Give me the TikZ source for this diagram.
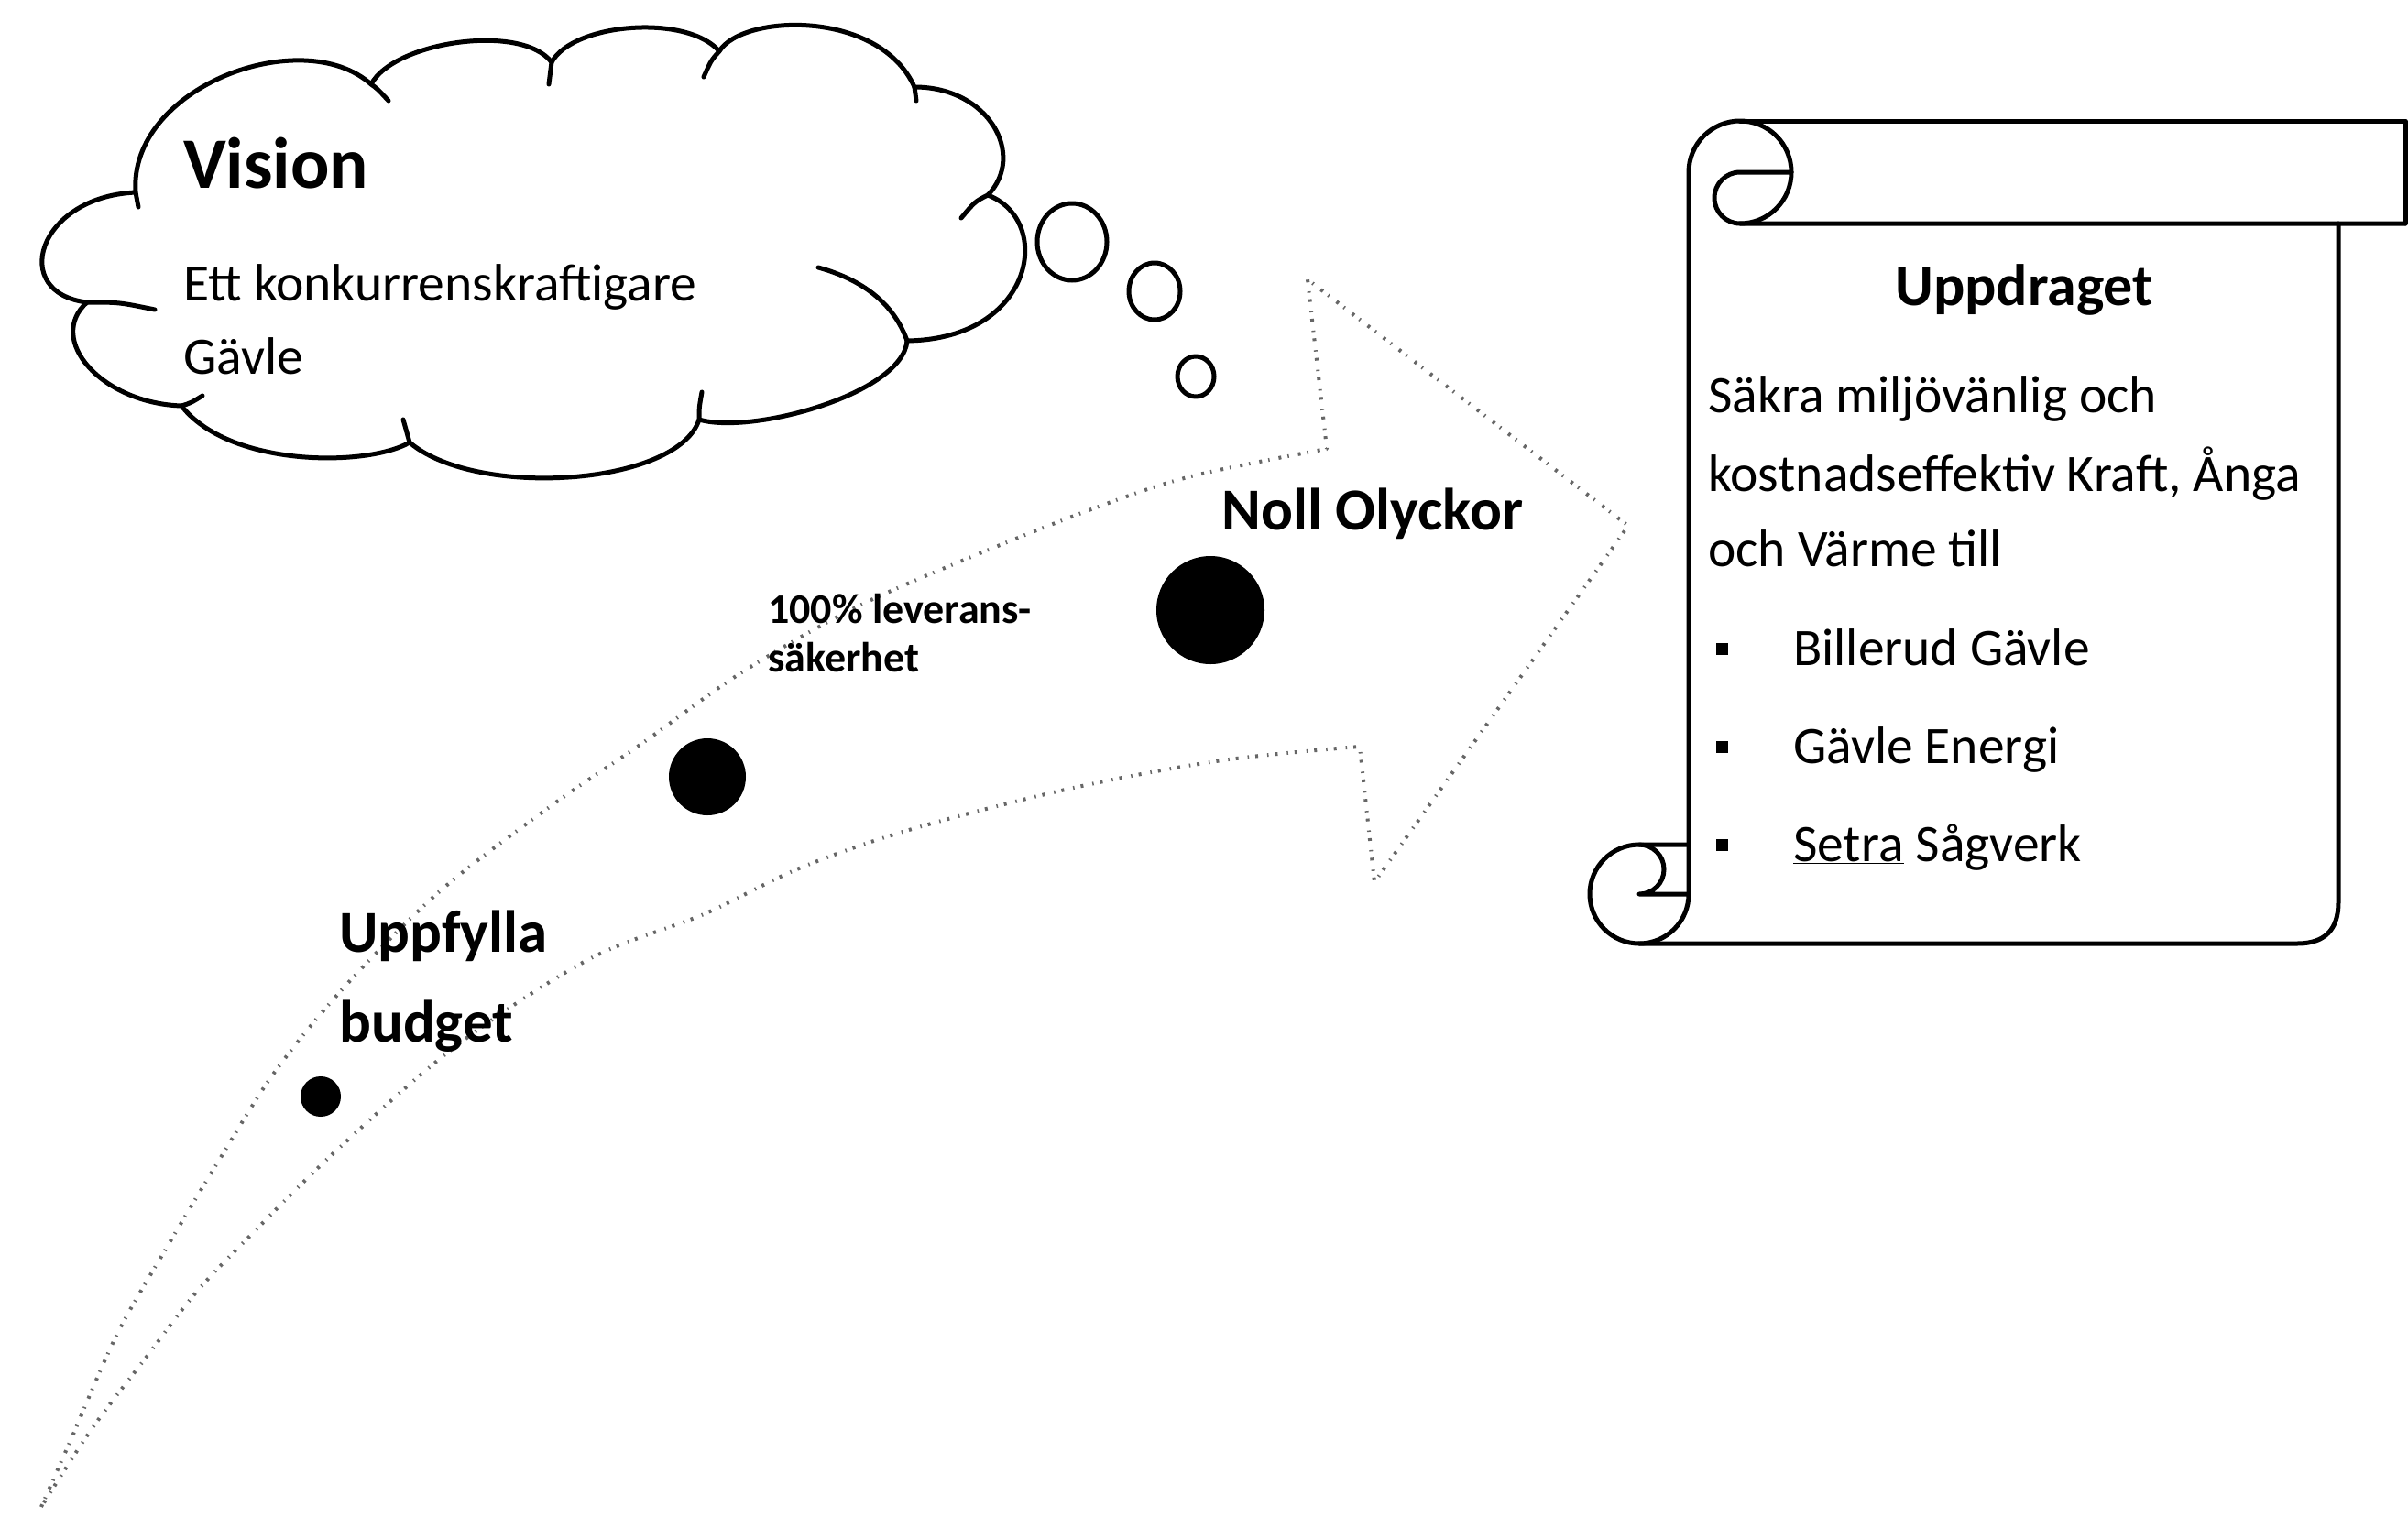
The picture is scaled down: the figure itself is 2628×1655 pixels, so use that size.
\documentclass[tikz,border=0pt]{standalone}
\usepackage{fontspec}
\setmainfont{Carlito}
\begin{document}
\begin{tikzpicture}[x=1pt,y=1pt,
  outl/.style={line width=5pt,line join=round,line cap=round},
  tailline/.style={line width=5pt,line cap=round},
  arrowline/.style={line width=4pt,black!60,line join=round,dash pattern=on 3pt off 7pt on 1.5pt off 10pt},
  dotnode/.style={circle,fill=black,inner sep=0pt},
  txt/.style={inner sep=0pt,anchor=base west,font=\fontsize{57.5}{69}\selectfont},
  btxt/.style={inner sep=0pt,anchor=base west,font=\fontsize{65}{78}\selectfont\bfseries},
  stxt/.style={inner sep=0pt,anchor=base west,font=\fontsize{46}{55}\selectfont\bfseries},
  bulletbox/.style={fill=black,inner sep=0pt,minimum size=13pt}
]
\fill[white] (0,0) rectangle (2628,-1655);
\useasboundingbox (0,0) rectangle (2628,-1655);

% ---------- curved arrow (faint outline) ----------
\draw[arrowline] plot[smooth,tension=0.55] coordinates {(45,-1645) (78,-1570) (127,-1458) (180,-1365) (240,-1265) (300,-1170) (378,-1075) (481,-972) (601,-880) (700,-812) (808,-735) (930,-665) (1055,-610) (1191,-556) (1300,-520) (1448,-490)}
  -- (1427,-305) -- (1777,-574) -- (1500,-963) -- (1484,-815)
  -- plot[smooth,tension=0.55] coordinates {(1484,-815) (1334,-830) (1167,-861) (992,-906) (872,-948) (768,-998) (643,-1047) (500,-1140) (367,-1256) (267,-1355) (213,-1412) (160,-1481) (100,-1560) (45,-1645)};

% ---------- milestone dots ----------
\node[dotnode,minimum size=118pt] (d3) at (1321,-666) {};
\node[dotnode,minimum size=84pt] (d2) at (772,-848) {};
\node[dotnode,minimum size=44pt] (d1) at (350,-1197) {};

% ---------- arrow labels ----------
\node[btxt] (noll) at (1333,-578) {Noll Olyckor};
\node[stxt] (lev1) at (838,-680) {100\% leverans-};
\node[stxt] (lev2) at (838,-733) {säkerhet};
\node[btxt] (upp1) at (370,-1039) {Uppfylla};
\node[btxt] (upp2) at (370,-1137) {budget};

% ---------- cloud ----------
\draw[outl] (148,-210) .. controls (140,-95) and (330,-25) .. (405,-92)
  .. controls (430,-45) and (570,-25) .. (602,-68)
  .. controls (625,-25) and (750,-15) .. (785,-56)
  .. controls (810,-15) and (960,-10) .. (998,-95)
  .. controls (1080,-95) and (1120,-170) .. (1078,-213)
  .. controls (1150,-240) and (1130,-370) .. (990,-372)
  .. controls (985,-430) and (820,-475) .. (763,-458)
  .. controls (740,-530) and (520,-545) .. (447,-483)
  .. controls (400,-510) and (250,-510) .. (198,-443)
  .. controls (110,-440) and (50,-370) .. (95,-330)
  .. controls (10,-320) and (40,-215) .. (148,-210) -- cycle;
% inner tails of the cloud
\draw[tailline] (148,-210) -- (151,-226);
\draw[tailline] (405,-92) .. controls (412,-97) .. (424,-110);
\draw[tailline] (602,-68) -- (599,-92);
\draw[tailline] (785,-56) .. controls (776,-66) .. (768,-84);
\draw[tailline] (998,-95) -- (1000,-110);
\draw[tailline] (1078,-213) .. controls (1064,-220) .. (1049,-238);
\draw[tailline] (990,-372) .. controls (975,-330) and (940,-305) .. (893,-292);
\draw[tailline] (763,-458) .. controls (763,-445) .. (766,-428);
\draw[tailline] (447,-483) .. controls (444,-472) .. (440,-458);
\draw[tailline] (198,-443) .. controls (208,-440) .. (221,-432);
\draw[tailline] (95,-330) .. controls (130,-330) .. (169,-338);

% thought bubbles
\draw[outl] (1170,-264) ellipse [x radius=38, y radius=42];
\draw[outl] (1260,-318) ellipse [x radius=28, y radius=31];
\draw[outl] (1305,-411) ellipse [x radius=20, y radius=22];

% cloud text
\node[inner sep=0pt,anchor=base west,font=\fontsize{79}{95}\selectfont\bfseries] (vision) at (200,-205) {Vision};
\node[txt] (vis1) at (200,-328) {Ett konkurrenskraftigare};
\node[txt] (vis2) at (200,-408) {Gävle};

% ---------- scroll ----------
% left edge and top roll
\draw[outl] (1843,-976) -- (1843,-188) arc[start angle=180,end angle=-90,radius=56];
% top band
\draw[outl] (1899,-132) -- (2625,-132) -- (2625,-244);
\draw[outl] (1955,-188) -- (1899,-188) arc[start angle=90,end angle=270,radius=28] -- (2625,-244);
% right edge and bottom
\draw[outl] (2552,-244) -- (2552,-985) .. controls (2552,-1015) and (2537,-1030) .. (2507,-1030) -- (1789,-1030);
% bottom-left roll
\draw[outl] (1843,-922) -- (1789,-922) arc[start angle=90,end angle=270,radius=54] arc[start angle=270,end angle=360,radius=54];
\draw[outl] (1843,-976) -- (1789,-976) arc[start angle=-90,end angle=90,radius=27];

% scroll text
\node[inner sep=0pt,anchor=base,font=\fontsize{64}{77}\selectfont\bfseries] (uppdr) at (2209,-333) {Uppdraget};
\node[txt] (s1) at (1864,-450) {Säkra miljövänlig och};
\node[txt] (s2) at (1864,-536) {kostnadseffektiv Kraft, Ånga};
\node[txt] (s3) at (1864,-618) {och Värme till};
\node[bulletbox] (b1) at (1879,-708) {};
\node[bulletbox] (b2) at (1879,-815) {};
\node[bulletbox] (b3) at (1879,-922) {};
\node[txt] (i1) at (1957,-726) {Billerud Gävle};
\node[txt] (i2) at (1957,-833) {Gävle Energi};
\node[txt] (i3) at (1957,-940) {\underline{Setra} Sågverk};
\end{tikzpicture}
\end{document}
